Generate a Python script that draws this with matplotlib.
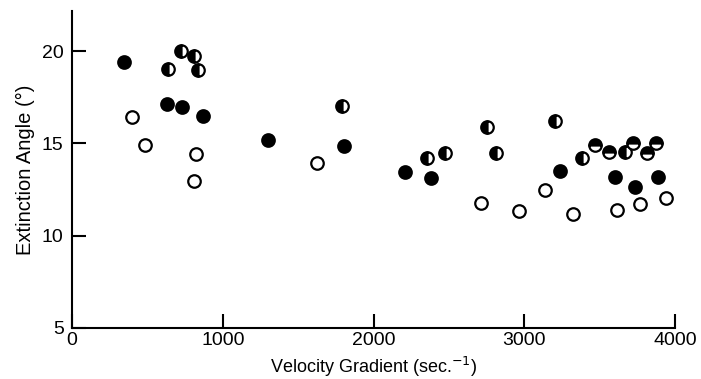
import matplotlib
matplotlib.use("Agg")
import matplotlib.pyplot as plt

plt.rcParams['font.family'] = ['Liberation Sans', 'DejaVu Sans']

# Data
filled_x = [345, 628, 732, 867, 1298, 1806, 2211, 2379, 3237, 3602, 3732, 3889]
filled_y = [19.42, 17.14, 16.99, 16.49, 15.19, 14.88, 13.46, 13.13, 13.51, 13.2, 12.63, 13.2]

open_x = [396, 484, 825, 811, 1623, 2713, 2965, 3140, 3325, 3612, 3768, 3938]
open_y = [16.42, 14.92, 14.43, 12.95, 13.93, 11.78, 11.36, 12.48, 11.18, 11.4, 11.7, 12.06]

halfL_x = [721, 811, 639, 836, 1789, 2355, 2477, 2753, 2815, 3206, 3381, 3666]
halfL_y = [20.03, 19.74, 19.02, 18.97, 17.05, 14.21, 14.49, 15.91, 14.49, 16.24, 14.2, 14.52]

halfT_x = [3467, 3564, 3721, 3814, 3872]
halfT_y = [14.94, 14.52, 15.03, 14.47, 15.04]

x_ticks = [0, 1000, 2000, 3000, 4000]
y_ticks = [5, 10, 15, 20]

fig = plt.figure(figsize=(7.01, 3.79), dpi=100)
ax = fig.add_axes([0.1027, 0.1346, 0.8603, 0.8364])

ms = 9
mew = 1.6
ax.plot(open_x, open_y, 'o', ms=ms, mfc='white', mec='black', mew=mew, ls='none')
ax.plot(filled_x, filled_y, 'o', ms=ms, mfc='black', mec='black', mew=mew, ls='none')
ax.plot(halfL_x, halfL_y, 'o', ms=ms, fillstyle='left', mfc='black', mfcalt='white',
        mec='black', mew=mew, ls='none')
ax.plot(halfT_x, halfT_y, 'o', ms=ms, fillstyle='top', mfc='black', mfcalt='white',
        mec='black', mew=mew, ls='none')

ax.set_xlim(0, 4000)
ax.set_ylim(5, 22.18)
ax.spines['top'].set_visible(False)
ax.spines['right'].set_visible(False)
for s in ['left', 'bottom']:
    ax.spines[s].set_linewidth(1.5)

ax.set_xticks(x_ticks)
ax.set_yticks(y_ticks)
ax.tick_params(direction='in', length=10, width=1.5, labelsize=14)
ax.tick_params(axis='y', pad=6)
ax.tick_params(axis='x', pad=3)

ax.set_xlabel('Velocity Gradient (sec.$^{-1}$)', fontsize=13, labelpad=4)
ax.set_ylabel('Extinction Angle (°)', fontsize=14.5, labelpad=5)

fig.savefig('out.png', dpi=100)
